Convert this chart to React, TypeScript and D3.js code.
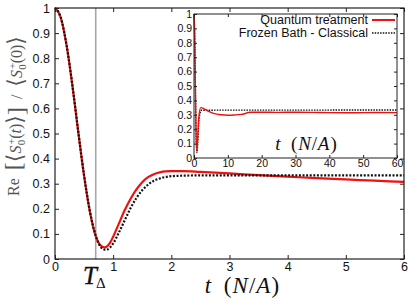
import * as React from 'react';
import * as d3 from 'd3';

// main panel, t in units of N/A
const mainTimeClassical = [0, 0.1, 0.2, 0.3, 0.4, 0.5, 0.6, 0.7, 0.8, 0.87, 0.9, 1.0, 1.1, 1.2, 1.3, 1.4, 1.5, 1.6, 1.7, 1.8, 2.0, 2.2, 2.5, 3, 4, 5, 6];
const mainClassical = [1, 0.961, 0.85, 0.69, 0.507, 0.333, 0.19, 0.093, 0.044, 0.037, 0.038, 0.062, 0.106, 0.155, 0.203, 0.243, 0.274, 0.296, 0.312, 0.321, 0.33, 0.332, 0.333, 0.333, 0.333, 0.333, 0.333];

const mainTimeQuantum = [0, 0.1, 0.2, 0.3, 0.4, 0.5, 0.6, 0.7, 0.75, 0.8, 0.85, 0.9, 0.95, 1.0, 1.1, 1.2, 1.3, 1.4, 1.5, 1.6, 1.7, 1.8, 1.9, 2.0, 2.2, 2.5, 3, 3.5, 4, 4.5, 5, 5.5, 6];
const mainQuantum = [1, 0.961, 0.85, 0.69, 0.506, 0.331, 0.188, 0.091, 0.065, 0.051, 0.046, 0.051, 0.066, 0.089, 0.142, 0.195, 0.24, 0.277, 0.306, 0.326, 0.338, 0.345, 0.349, 0.35, 0.35, 0.347, 0.341, 0.334, 0.328, 0.322, 0.317, 0.312, 0.307];

// inset, long times
const insetTimeQuantum = [0, 0.2, 0.4, 0.6, 0.85, 1.1, 1.4, 2, 3, 4, 5, 6, 8, 10, 12, 14, 15, 16, 17, 20, 25, 30, 35, 40, 45, 50, 55, 60];
const insetQuantum = [1, 0.85, 0.505, 0.18, 0.046, 0.145, 0.277, 0.35, 0.341, 0.328, 0.317, 0.308, 0.3, 0.297, 0.299, 0.303, 0.307, 0.316, 0.318, 0.318, 0.317, 0.318, 0.317, 0.315, 0.314, 0.315, 0.316, 0.315];

const insetTimeClassical = [0, 0.2, 0.4, 0.6, 0.87, 1.1, 1.5, 2.2, 60];
const insetClassical = [1, 0.85, 0.507, 0.19, 0.037, 0.106, 0.274, 0.332, 0.333];

const mainXTicks = [0, 1, 2, 3, 4, 5, 6];
const yTicks = [0, 0.1, 0.2, 0.3, 0.4, 0.5, 0.6, 0.7, 0.8, 0.9, 1];
const insetXTicks = [0, 10, 20, 30, 40, 50, 60];
const tDelta = 0.7;

const legendLabels = ['Quantum treatment', 'Frozen Bath - Classical'];

const sans = '"Liberation Sans", Arial, sans-serif';
const serif = '"Liberation Serif", "DejaVu Serif", serif';
const red = '#f01010';

// t (N/A) with math italics, spaced like TeX
function timeLabel(g: any, size: number) {
	const t = g.append('text').attr('font-family', serif).attr('font-size', size).attr('fill', '#111').attr('text-anchor', 'middle');
	t.append('tspan').attr('font-style', 'italic').text('t');
	t.append('tspan').attr('dx', size * 0.55).text('(');
	t.append('tspan').attr('dx', size * 0.05).attr('font-style', 'italic').text('N');
	t.append('tspan').attr('dx', size * 0.05).text('/');
	t.append('tspan').attr('dx', size * 0.03).attr('font-style', 'italic').text('A');
	t.append('tspan').attr('dx', size * 0.06).text(')');
	return t;
}

export default function App() {
	const ref = React.useRef<SVGSVGElement>(null);

	React.useEffect(() => {
		const svg = d3.select(ref.current);
		svg.selectAll('*').remove();

		const x = d3.scaleLinear().domain([0, 6]).range([55, 404]);
		const y = d3.scaleLinear().domain([0, 1]).range([259, 8]);
		const fmt = d3.format('~g');

		const line = (xs: any, ys: any, ts: number[]) =>
			d3
				.line<number>()
				.x((d: number, i: number) => xs(ts[i]))
				.y((d: number) => ys(d))
				.curve(d3.curveMonotoneX);

		// T_delta marker
		svg.append('line')
			.attr('x1', x(tDelta))
			.attr('x2', x(tDelta))
			.attr('y1', y(1))
			.attr('y2', y(0))
			.attr('stroke', '#a8a8a8')
			.attr('stroke-width', 1.6);

		svg.append('path')
			.datum(mainQuantum)
			.attr('d', line(x, y, mainTimeQuantum))
			.attr('fill', 'none')
			.attr('stroke', red)
			.attr('stroke-width', 2.2);

		svg.append('path')
			.datum(mainClassical)
			.attr('d', line(x, y, mainTimeClassical))
			.attr('fill', 'none')
			.attr('stroke', '#111')
			.attr('stroke-width', 2.2)
			.attr('stroke-dasharray', '2,1.6');

		const styleAxis = (g: any, size: number) => {
			g.select('.domain').remove();
			g.selectAll('line').attr('stroke', '#222');
			g.selectAll('text').attr('font-family', sans).attr('font-size', size).attr('fill', '#111');
		};

		svg.append('g')
			.attr('transform', `translate(0,${y(0)})`)
			.call(d3.axisBottom(x).tickValues(mainXTicks).tickFormat(fmt as any).tickSizeInner(-4).tickSizeOuter(0).tickPadding(3))
			.call((g: any) => styleAxis(g, 12.5));
		svg.append('g')
			.attr('transform', `translate(0,${y(1)})`)
			.call(d3.axisTop(x).tickValues(mainXTicks).tickFormat(() => '').tickSizeInner(-4).tickSizeOuter(0))
			.call((g: any) => styleAxis(g, 12));
		svg.append('g')
			.attr('transform', `translate(${x(0)},0)`)
			.call(d3.axisLeft(y).tickValues(yTicks).tickFormat(fmt as any).tickSizeInner(-4).tickSizeOuter(0).tickPadding(5))
			.call((g: any) => styleAxis(g, 12.5));
		svg.append('g')
			.attr('transform', `translate(${x(6)},0)`)
			.call(d3.axisRight(y).tickValues(yTicks).tickFormat(() => '').tickSizeInner(-4).tickSizeOuter(0))
			.call((g: any) => styleAxis(g, 12));

		svg.append('rect')
			.attr('x', x(0))
			.attr('y', y(1))
			.attr('width', x(6) - x(0))
			.attr('height', y(0) - y(1))
			.attr('fill', 'none')
			.attr('stroke', '#222')
			.attr('stroke-width', 1.2);

		// axis titles
		timeLabel(svg, 23).attr('x', 242).attr('y', 293);

		const td = svg.append('text').attr('x', 83).attr('y', 284).attr('font-family', serif).attr('fill', '#111');
		td.append('tspan').attr('font-style', 'italic').attr('font-size', 25).attr('stroke', '#111').attr('stroke-width', 0.4).text('T');
		td.append('tspan').attr('font-size', 15).attr('dx', -1).attr('dy', 4).text('\u0394');

		const yl = svg.append('text')
			.attr('transform', 'translate(19,116) rotate(-90)')
			.attr('text-anchor', 'middle')
			.attr('font-family', serif)
			.attr('font-size', 16)
			.attr('fill', '#555');
		const sPart = (arg: string, italicArg: boolean) => {
			yl.append('tspan').attr('font-size', 22).attr('dy', 1).text('\u27E8');
			yl.append('tspan').attr('dy', -1).attr('font-style', 'italic').text('S');
			yl.append('tspan').attr('font-size', 11).attr('dx', 1).attr('dy', -6).text('+');
			yl.append('tspan').attr('font-size', 11).attr('dx', -7).attr('dy', 10).text('0');
			yl.append('tspan').attr('dx', 1).attr('dy', -4).text('(');
			yl.append('tspan').attr('font-style', italicArg ? 'italic' : 'normal').text(arg);
			yl.append('tspan').text(')');
			yl.append('tspan').attr('font-size', 22).attr('dy', 1).text('\u27E9');
			yl.append('tspan').attr('dy', -1).text('');
		};
		yl.append('tspan').text('Re\u2002');
		yl.append('tspan').attr('font-size', 24).attr('dy', 2).text('[');
		yl.append('tspan').attr('dy', -2).text('');
		sPart('t', true);
		yl.append('tspan').attr('font-size', 24).attr('dy', 2).text(']');
		yl.append('tspan').attr('dy', -2).text('\u2002/\u2002');
		sPart('0', false);

		// inset
		const ix = d3.scaleLinear().domain([0, 60]).range([194, 397]);
		const iy = d3.scaleLinear().domain([0, 1]).range([158, 14]);
		const inset = svg.append('g');

		inset.append('rect')
			.attr('x', ix(0))
			.attr('y', iy(1))
			.attr('width', ix(60) - ix(0))
			.attr('height', iy(0) - iy(1))
			.attr('fill', '#fff');

		inset.append('path')
			.datum(insetClassical)
			.attr('d', line(ix, iy, insetTimeClassical))
			.attr('fill', 'none')
			.attr('stroke', '#111')
			.attr('stroke-width', 1.4)
			.attr('stroke-dasharray', '1.5,1.2');

		inset.append('path')
			.datum(insetQuantum)
			.attr('d', line(ix, iy, insetTimeQuantum))
			.attr('fill', 'none')
			.attr('stroke', red)
			.attr('stroke-width', 1.4);

		inset.append('g')
			.attr('transform', `translate(0,${iy(0)})`)
			.call(d3.axisBottom(ix).tickValues(insetXTicks).tickFormat(fmt as any).tickSizeInner(-3).tickSizeOuter(0).tickPadding(2))
			.call((g: any) => styleAxis(g, 10.5));
		inset.append('g')
			.attr('transform', `translate(0,${iy(1)})`)
			.call(d3.axisTop(ix).tickValues(insetXTicks).tickFormat(() => '').tickSizeInner(-3).tickSizeOuter(0))
			.call((g: any) => styleAxis(g, 10));
		inset.append('g')
			.attr('transform', `translate(${ix(0)},0)`)
			.call(d3.axisLeft(iy).tickValues(yTicks).tickFormat(fmt as any).tickSizeInner(-3).tickSizeOuter(0).tickPadding(2))
			.call((g: any) => styleAxis(g, 10.5));
		inset.append('g')
			.attr('transform', `translate(${ix(60)},0)`)
			.call(d3.axisRight(iy).tickValues(yTicks).tickFormat(() => '').tickSizeInner(-3).tickSizeOuter(0))
			.call((g: any) => styleAxis(g, 10));

		inset.append('rect')
			.attr('x', ix(0))
			.attr('y', iy(1))
			.attr('width', ix(60) - ix(0))
			.attr('height', iy(0) - iy(1))
			.attr('fill', 'none')
			.attr('stroke', '#222')
			.attr('stroke-width', 1);

		timeLabel(inset, 19).attr('x', 306).attr('y', 150);

		// legend
		const legend = inset.append('g');
		legendLabels.forEach((label, i) => {
			const ly = 20 + i * 13;
			legend.append('text')
				.attr('x', 368)
				.attr('y', ly + 4)
				.attr('text-anchor', 'end')
				.attr('font-family', sans)
				.attr('font-size', 12.5)
				.attr('fill', '#111')
				.text(label);
			legend.append('line')
				.attr('x1', 372)
				.attr('x2', 395)
				.attr('y1', ly)
				.attr('y2', ly)
				.attr('stroke', i === 0 ? red : '#111')
				.attr('stroke-width', i === 0 ? 2 : 1.6)
				.attr('stroke-dasharray', i === 0 ? null : '1.5,1.2');
		});
	}, []);

	return (
		<svg
			ref={ref}
			width={415}
			height={305}
			viewBox="0 0 415 305"
			style={{ position: 'absolute', left: 0, top: 0, background: '#fff' }}
		>
			<g />
		</svg>
	);
}
